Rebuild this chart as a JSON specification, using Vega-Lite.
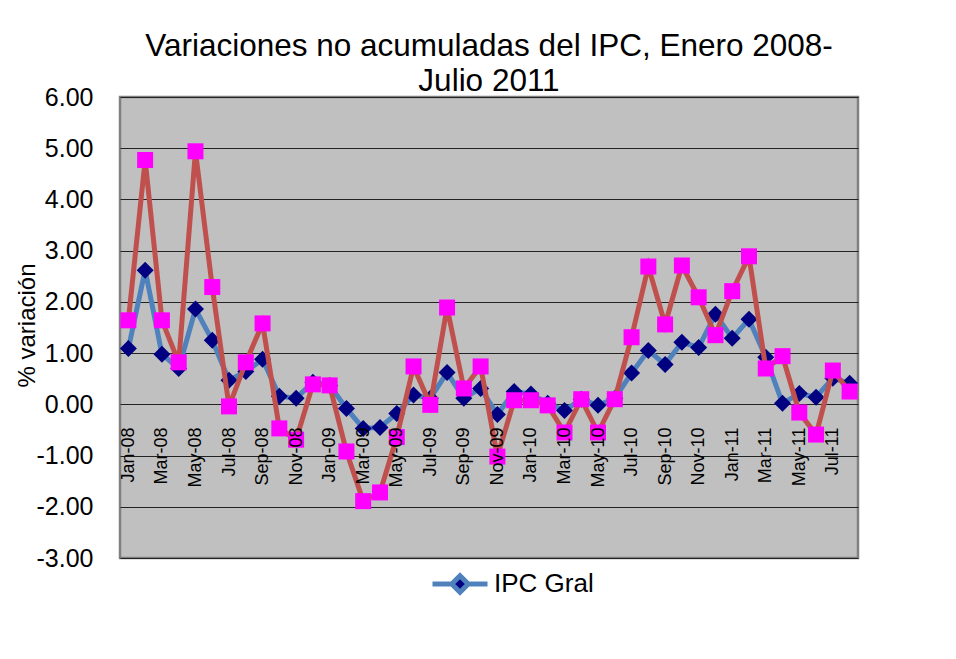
{
  "$schema": "https://vega.github.io/schema/vega-lite/v6.json",
  "width": 738,
  "height": 461,
  "autosize": {"type": "none"},
  "padding": {"left": 120, "top": 97, "right": 98, "bottom": 101},
  "background": "white",
  "title": {
    "text": ["Variaciones no acumuladas del IPC, Enero 2008-", "Julio 2011"],
    "fontSize": 31.5,
    "fontWeight": "normal",
    "font": "Liberation Sans",
    "color": "#000000",
    "lineHeight": 35,
    "anchor": "middle",
    "frame": "group",
    "offset": -12
  },
  "data": {
    "values": [
      {"mes": "Jan-08", "ipc_gral": 1.09, "serie2": 1.64},
      {"mes": "Feb-08", "ipc_gral": 2.62, "serie2": 4.77},
      {"mes": "Mar-08", "ipc_gral": 0.98, "serie2": 1.64},
      {"mes": "Apr-08", "ipc_gral": 0.70, "serie2": 0.82},
      {"mes": "May-08", "ipc_gral": 1.86, "serie2": 4.94},
      {"mes": "Jun-08", "ipc_gral": 1.25, "serie2": 2.29},
      {"mes": "Jul-08", "ipc_gral": 0.47, "serie2": -0.04},
      {"mes": "Aug-08", "ipc_gral": 0.64, "serie2": 0.82},
      {"mes": "Sep-08", "ipc_gral": 0.88, "serie2": 1.58},
      {"mes": "Oct-08", "ipc_gral": 0.16, "serie2": -0.47},
      {"mes": "Nov-08", "ipc_gral": 0.12, "serie2": -0.69},
      {"mes": "Dec-08", "ipc_gral": 0.43, "serie2": 0.39},
      {"mes": "Jan-09", "ipc_gral": 0.37, "serie2": 0.37},
      {"mes": "Feb-09", "ipc_gral": -0.08, "serie2": -0.92},
      {"mes": "Mar-09", "ipc_gral": -0.47, "serie2": -1.89},
      {"mes": "Apr-09", "ipc_gral": -0.45, "serie2": -1.72},
      {"mes": "May-09", "ipc_gral": -0.18, "serie2": -0.64},
      {"mes": "Jun-09", "ipc_gral": 0.18, "serie2": 0.74},
      {"mes": "Jul-09", "ipc_gral": 0.12, "serie2": -0.01},
      {"mes": "Aug-09", "ipc_gral": 0.62, "serie2": 1.89},
      {"mes": "Sep-09", "ipc_gral": 0.12, "serie2": 0.31},
      {"mes": "Oct-09", "ipc_gral": 0.31, "serie2": 0.74},
      {"mes": "Nov-09", "ipc_gral": -0.20, "serie2": -1.02},
      {"mes": "Dec-09", "ipc_gral": 0.25, "serie2": 0.08},
      {"mes": "Jan-10", "ipc_gral": 0.20, "serie2": 0.08},
      {"mes": "Feb-10", "ipc_gral": 0.02, "serie2": -0.02},
      {"mes": "Mar-10", "ipc_gral": -0.12, "serie2": -0.55},
      {"mes": "Apr-10", "ipc_gral": 0.10, "serie2": 0.10},
      {"mes": "May-10", "ipc_gral": -0.02, "serie2": -0.55},
      {"mes": "Jun-10", "ipc_gral": 0.12, "serie2": 0.10},
      {"mes": "Jul-10", "ipc_gral": 0.61, "serie2": 1.31},
      {"mes": "Aug-10", "ipc_gral": 1.05, "serie2": 2.69},
      {"mes": "Sep-10", "ipc_gral": 0.78, "serie2": 1.56},
      {"mes": "Oct-10", "ipc_gral": 1.21, "serie2": 2.71},
      {"mes": "Nov-10", "ipc_gral": 1.11, "serie2": 2.09},
      {"mes": "Dec-10", "ipc_gral": 1.76, "serie2": 1.35},
      {"mes": "Jan-11", "ipc_gral": 1.29, "serie2": 2.21},
      {"mes": "Feb-11", "ipc_gral": 1.66, "serie2": 2.89},
      {"mes": "Mar-11", "ipc_gral": 0.92, "serie2": 0.70},
      {"mes": "Apr-11", "ipc_gral": 0.02, "serie2": 0.94},
      {"mes": "May-11", "ipc_gral": 0.21, "serie2": -0.16},
      {"mes": "Jun-11", "ipc_gral": 0.14, "serie2": -0.59},
      {"mes": "Jul-11", "ipc_gral": 0.51, "serie2": 0.66},
      {"mes": "Aug-11", "ipc_gral": 0.41, "serie2": 0.25}
    ]
  },
  "encoding": {
    "x": {
      "field": "mes",
      "type": "ordinal",
      "sort": null,
      "scale": {"type": "point", "padding": 0.5},
      "axis": {
        "title": null,
        "domain": false,
        "ticks": false,
        "grid": false,
        "offset": -154,
        "labelAngle": 270,
        "labelFontSize": 18,
        "labelColor": "#000000",
        "labelPadding": 23,
        "labelOverlap": false,
        "zindex": 1,
        "values": ["Jan-08","Mar-08","May-08","Jul-08","Sep-08","Nov-08","Jan-09","Mar-09","May-09","Jul-09","Sep-09","Nov-09","Jan-10","Mar-10","May-10","Jul-10","Sep-10","Nov-10","Jan-11","Mar-11","May-11","Jul-11"]
      }
    }
  },
  "layer": [
    {
      "mark": {"type": "line", "strokeWidth": 5},
      "encoding": {
        "y": {
          "field": "ipc_gral",
          "type": "quantitative",
          "scale": {"domain": [-3, 6], "nice": false, "zero": false},
          "axis": {
            "title": "% variación",
            "titleFontSize": 24,
            "titleFontWeight": "normal",
            "titleColor": "#000000",
            "titleX": -81,
            "titleY": 228,
            "values": [-3, -2, -1, 0, 1, 2, 3, 4, 5, 6],
            "labelExpr": "replace(format(datum.value, '.2f'), '\u2212', '-')",
            "labelFontSize": 25,
            "labelColor": "#000000",
            "labelPadding": 27,
            "ticks": false,
            "domain": false,
            "grid": true,
            "gridColor": "#222222",
            "gridWidth": 1.2
          }
        },
        "color": {
          "datum": "IPC Gral",
          "type": "nominal",
          "scale": {"range": ["#4F81BD"]},
          "legend": {
            "title": null,
            "orient": "none",
            "legendX": 310,
            "legendY": 457,
            "labelFontSize": 26,
            "labelColor": "#000000",
            "symbolSize": 3025,
            "labelOffset": 4,
            "symbolType": "M-1,0L-0.3,0M0.3,0L1,0M0,-0.3L0.3,0L0,0.3L-0.3,0Z",
            "symbolStrokeWidth": 5,
            "encode": {
              "symbols": {
                "update": {
                  "fill": {"value": "#000080"},
                  "stroke": {"value": "#4F81BD"},
                  "strokeWidth": {"value": 5},
                  "shape": {"value": "M-1,0L-0.3,0M0.3,0L1,0M0,-0.3L0.3,0L0,0.3L-0.3,0Z"}
                }
              }
            }
          }
        }
      }
    },
    {
      "mark": {"type": "point", "shape": "diamond", "filled": true, "color": "#000080", "size": 289, "opacity": 1},
      "encoding": {"y": {"field": "ipc_gral", "type": "quantitative"}}
    },
    {
      "mark": {"type": "line", "strokeWidth": 5, "color": "#C0504D"},
      "encoding": {"y": {"field": "serie2", "type": "quantitative"}}
    },
    {
      "mark": {"type": "point", "shape": "square", "filled": true, "color": "#FF00FF", "size": 256, "opacity": 1},
      "encoding": {"y": {"field": "serie2", "type": "quantitative"}}
    }
  ],
  "config": {
    "font": "Liberation Sans",
    "view": {"fill": "#C0C0C0", "stroke": "#808080", "strokeWidth": 2.5}
  }
}
